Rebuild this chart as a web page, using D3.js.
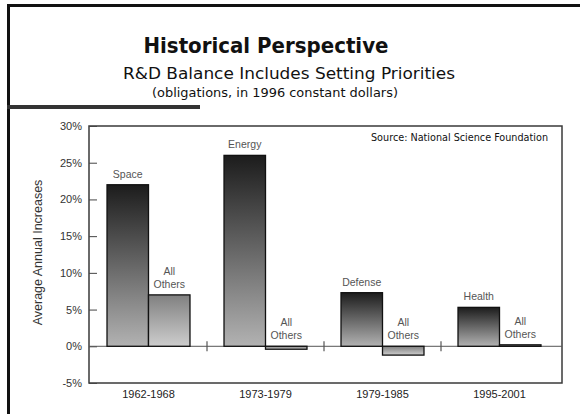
<!DOCTYPE html>
<html>
<head>
<meta charset="utf-8">
<script src="https://cdn.jsdelivr.net/npm/d3@7"></script>
<style>
  body { margin: 0; background: #fff; }
  svg { display: block; }
</style>
</head>
<body>
<svg id="chart" width="580" height="414"></svg>
<script>
// data
var periods = ["1962-1968", "1973-1979", "1979-1985", "1995-2001"];
var leaders = ["Space", "Energy", "Defense", "Health"];
var leaderValues = [22, 26, 7.3, 5.3];
var otherValues = [7, -0.4, -1.2, 0.2];
var yTicks = [-5, 0, 5, 10, 15, 20, 25, 30];

var svg = d3.select("#chart");

// slide frame
svg.append("rect").attr("x", 7).attr("y", 4).attr("width", 573).attr("height", 3).attr("fill", "#111");
svg.append("rect").attr("x", 7).attr("y", 4).attr("width", 3).attr("height", 410).attr("fill", "#111");
svg.append("rect").attr("x", 7).attr("y", 105).attr("width", 193).attr("height", 4).attr("fill", "#333");

// titles
var tfont = "Tahoma, 'DejaVu Sans', sans-serif";
svg.append("text").attr("x", 266).attr("y", 53).attr("text-anchor", "middle")
  .attr("font-family", tfont).attr("font-weight", "bold").attr("font-size", 22)
  .attr("textLength", 245).attr("lengthAdjust", "spacingAndGlyphs")
  .attr("fill", "#111").text("Historical Perspective");
svg.append("text").attr("x", 289).attr("y", 79).attr("text-anchor", "middle")
  .attr("font-family", tfont).attr("font-size", 16.5)
  .attr("textLength", 332).attr("lengthAdjust", "spacingAndGlyphs")
  .attr("fill", "#111").text("R&D Balance Includes Setting Priorities");
svg.append("text").attr("x", 275).attr("y", 97).attr("text-anchor", "middle")
  .attr("font-family", tfont).attr("font-size", 11.5)
  .attr("textLength", 246).attr("lengthAdjust", "spacingAndGlyphs")
  .attr("fill", "#111").text("(obligations, in 1996 constant dollars)");

// plot area
var pLeft = 89, pRight = 562, pTop = 126, pBottom = 383;
var y = d3.scaleLinear().domain([-5, 30]).range([pBottom, pTop]);
var x0 = d3.scaleBand().domain(periods).range([90, 558]).padding(0);
var x1 = d3.scaleBand().domain(["lead", "others"]).range([0, x0.bandwidth()])
  .paddingInner(0).paddingOuter(0.41);

var defs = svg.append("defs");
function grad(id, c1, c2) {
  var g = defs.append("linearGradient").attr("id", id)
    .attr("x1", 0).attr("y1", 0).attr("x2", 0).attr("y2", 1);
  g.append("stop").attr("offset", "0%").attr("stop-color", c1);
  g.append("stop").attr("offset", "100%").attr("stop-color", c2);
}
grad("gLead", "#1c1c1c", "#b2b2b2");
grad("gOther", "#808080", "#cdcdcd");

svg.append("rect").attr("x", pLeft).attr("y", pTop).attr("width", pRight - pLeft).attr("height", pBottom - pTop)
  .attr("fill", "none").attr("stroke", "#3a3a3a").attr("stroke-width", 1.5);

// y axis, ticks drawn inward
var lfont = "'Liberation Sans', Arial, sans-serif";
var yAxis = d3.axisRight(y).tickValues(yTicks).tickSize(8).tickFormat(function (d) { return d + "%"; });
var ya = svg.append("g").attr("transform", "translate(" + pLeft + ",0)").call(yAxis);
ya.select(".domain").remove();
ya.selectAll(".tick line").attr("stroke", "#444");
ya.selectAll(".tick text").attr("x", -7).attr("text-anchor", "end")
  .attr("font-family", lfont).attr("font-size", 11).attr("fill", "#333");

svg.append("text").attr("transform", "translate(42," + ((pTop + pBottom) / 2 - 2) + ") rotate(-90)")
  .attr("text-anchor", "middle").attr("font-family", lfont)
  .attr("font-size", 12.5).attr("fill", "#333").text("Average Annual Increases");

svg.append("text").attr("x", 548).attr("y", 141).attr("text-anchor", "end")
  .attr("font-family", tfont).attr("font-size", 10)
  .attr("textLength", 177).attr("lengthAdjust", "spacingAndGlyphs")
  .attr("fill", "#111").text("Source: National Science Foundation");

// zero line
svg.append("line").attr("x1", pLeft).attr("x2", pRight).attr("y1", y(0)).attr("y2", y(0))
  .attr("stroke", "#555").attr("stroke-width", 1);

// separators between periods
svg.selectAll(".sep").data(periods.slice(1)).enter().append("line")
  .attr("x1", function (d) { return x0(d); }).attr("x2", function (d) { return x0(d); })
  .attr("y1", y(0) - 5).attr("y2", y(0) + 5).attr("stroke", "#555").attr("stroke-width", 1.2);

var groups = svg.selectAll(".grp").data(periods).enter().append("g")
  .attr("transform", function (d) { return "translate(" + x0(d) + ",0)"; });

groups.each(function (p, i) {
  var g = d3.select(this);
  var bars = [
    { key: "lead", v: leaderValues[i], fill: "url(#gLead)" },
    { key: "others", v: otherValues[i], fill: "url(#gOther)" }
  ];
  g.selectAll("rect").data(bars).enter().append("rect")
    .attr("x", function (d) { return x1(d.key); })
    .attr("y", function (d) { return y(Math.max(0, d.v)); })
    .attr("width", x1.bandwidth())
    .attr("height", function (d) { return Math.max(1.5, Math.abs(y(d.v) - y(0))); })
    .attr("fill", function (d) { return d.fill; })
    .attr("stroke", "#111").attr("stroke-width", 1.3);

  g.append("text").attr("x", x1("lead") + x1.bandwidth() / 2).attr("y", y(leaderValues[i]) - 7)
    .attr("text-anchor", "middle").attr("font-family", lfont).attr("font-size", 10.5)
    .attr("fill", "#555").text(leaders[i]);

  var oy = y(Math.max(0, otherValues[i])) - 7;
  var ot = g.append("text").attr("text-anchor", "middle").attr("font-family", lfont)
    .attr("font-size", 10.5).attr("fill", "#555");
  ot.append("tspan").attr("x", x1("others") + x1.bandwidth() / 2).attr("y", oy - 13).text("All");
  ot.append("tspan").attr("x", x1("others") + x1.bandwidth() / 2).attr("y", oy).text("Others");
});

// category labels
svg.selectAll(".cat").data(periods).enter().append("text")
  .attr("x", function (d) { return x0(d) + x0.bandwidth() / 2; })
  .attr("y", 398).attr("text-anchor", "middle").attr("font-family", lfont)
  .attr("font-size", 11).attr("fill", "#222").text(function (d) { return d; });
</script>
</body>
</html>
